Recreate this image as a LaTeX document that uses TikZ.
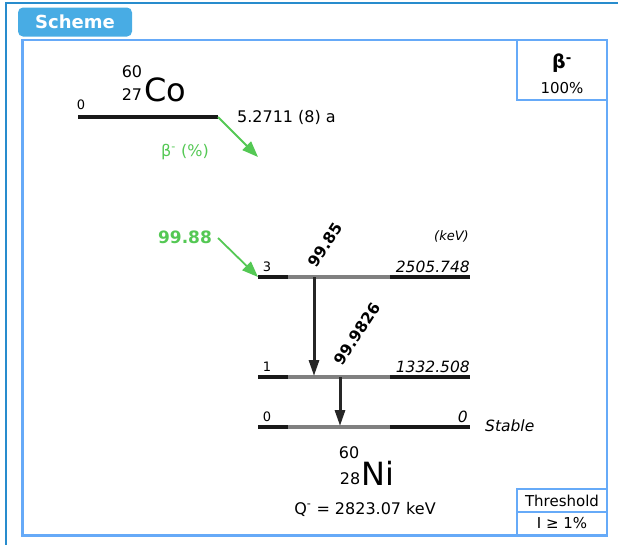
\documentclass[tikz,border=0pt]{standalone}
\usepackage{fontspec}
\setmainfont{DejaVu Sans}
\usetikzlibrary{arrows.meta}
\definecolor{frameblue}{RGB}{102,170,248}
\definecolor{outerblue}{RGB}{40,140,205}
\definecolor{tabblue}{RGB}{72,172,228}
\definecolor{feedgreen}{RGB}{84,200,84}
\begin{document}
\begin{tikzpicture}[x=1pt, y=-1pt,
  txt/.style={inner sep=0pt, font=\fontsize{16}{19}\selectfont},
  box/.style={inner sep=0pt, font=\fontsize{15}{18}\selectfont},
  small/.style={inner sep=0pt, font=\fontsize{13}{15}\selectfont},
  en/.style={inner sep=0pt, font=\fontsize{15.5}{18}\selectfont\itshape},
  lab/.style={inner sep=0pt, font=\fontsize{15.5}{18}\selectfont\bfseries},
  nuc/.style={inner sep=0pt, font=\fontsize{32}{36}\selectfont},
  lvl/.style={line width=3.5pt, black!90},
  lvlmid/.style={line width=3.5pt, black!50},
  trans/.style={line width=3pt, black!85, -{Triangle[length=16pt, width=10pt]}},
  feed/.style={line width=1.8pt, feedgreen, -{Triangle[length=16pt, width=12pt]}},
  panel/.style={line width=2.5pt, frameblue}]
\useasboundingbox (0,0) rectangle (618,544);
% Frames and tab
\draw[outerblue, line width=1.5pt] (6,548) -- (6,3) -- (622,3);
\draw[panel] (22.5,40) rectangle (607,535.5);
\draw[panel] (517,40) rectangle (607,100);
\draw[panel] (517,489) rectangle (607,535.5);
\draw[panel] (517,512) -- (607,512);
\node[fill=tabblue, rounded corners=5pt, minimum width=114pt, minimum height=29pt, inner sep=0pt,
  text=white, font=\fontsize{18}{20}\selectfont\bfseries] (tab) at (75,22) {Scheme};
% Mode and threshold boxes
\node[inner sep=0pt, font=\fontsize{19}{21}\selectfont\bfseries] (bt) at (562,63) {β\textsuperscript{-}};
\node[box] (bp) at (562,88) {100\%};
\node[box] (thT) at (562,500.5) {Threshold};
\node[box] (thV) at (562,523.5) {I ≥ 1\%};
% Parent 60Co
\draw[lvl] (78,117) coordinate (coW) -- (218,117) coordinate (coE);
\node[small] (co0) at (81,105) {0};
\node[txt] (coA) at (132,72) {60};
\node[txt] (coZ) at (132,95) {27};
\node[nuc, anchor=base west] (coS) at (144,101) {Co};
\node[txt, anchor=west] (coT) at (237,117) {5.2711 (8) a};
\coordinate (coF) at (258,157);
\draw[feed] (coE) -- (coF);
\node[txt, text=feedgreen] (bm) at (185,152) {β\textsuperscript{-} (\%)};
% Levels of 60Ni
\foreach \n/\y in {3/277, 1/377, 0/427} {
  \draw[lvl] (258,\y) coordinate (l\n w) -- (288,\y);
  \draw[lvlmid] (288,\y) -- (390,\y);
  \draw[lvl] (390,\y) -- (470,\y) coordinate (l\n e);
  \node[small, anchor=base] (n\n) at (267,{\y-5.5}) {\n};
}
\node[en, anchor=base east] (e3) at (470,272) {2505.748};
\node[en, anchor=base east] (e1) at (470,372) {1332.508};
\node[en, anchor=base east] (e0) at (468,422) {0};
\node[en, anchor=base west] (st) at (485,431) {Stable};
\node[inner sep=0pt, font=\fontsize{13}{15}\selectfont\itshape, anchor=base east] (kev) at (469,240) {(keV)};
% Feeding
\node[inner sep=0pt, text=feedgreen, font=\fontsize{17}{19}\selectfont\bfseries] (i3) at (185,237) {99.88};
\coordinate (i3f) at (218,238);
\draw[feed] (i3f) -- (l3w);
% Gamma transitions
\coordinate (t1a) at (314,277);
\coordinate (t1b) at (314,376);
\draw[trans] (t1a) -- (t1b);
\node[lab, rotate=57] (g1) at (325,245) {99.85};
\coordinate (t2a) at (340,377);
\coordinate (t2b) at (340,426);
\draw[trans] (t2a) -- (t2b);
\node[lab, rotate=57] (g2) at (357,334) {99.9826};
% Daughter 60Ni
\node[txt] (niA) at (349,453) {60};
\node[txt] (niZ) at (350,479) {28};
\node[nuc, anchor=base west] (niS) at (361,485) {Ni};
\node[txt] (q) at (365,509) {Q\textsuperscript{-} = 2823.07 keV};
\end{tikzpicture}
\end{document}
